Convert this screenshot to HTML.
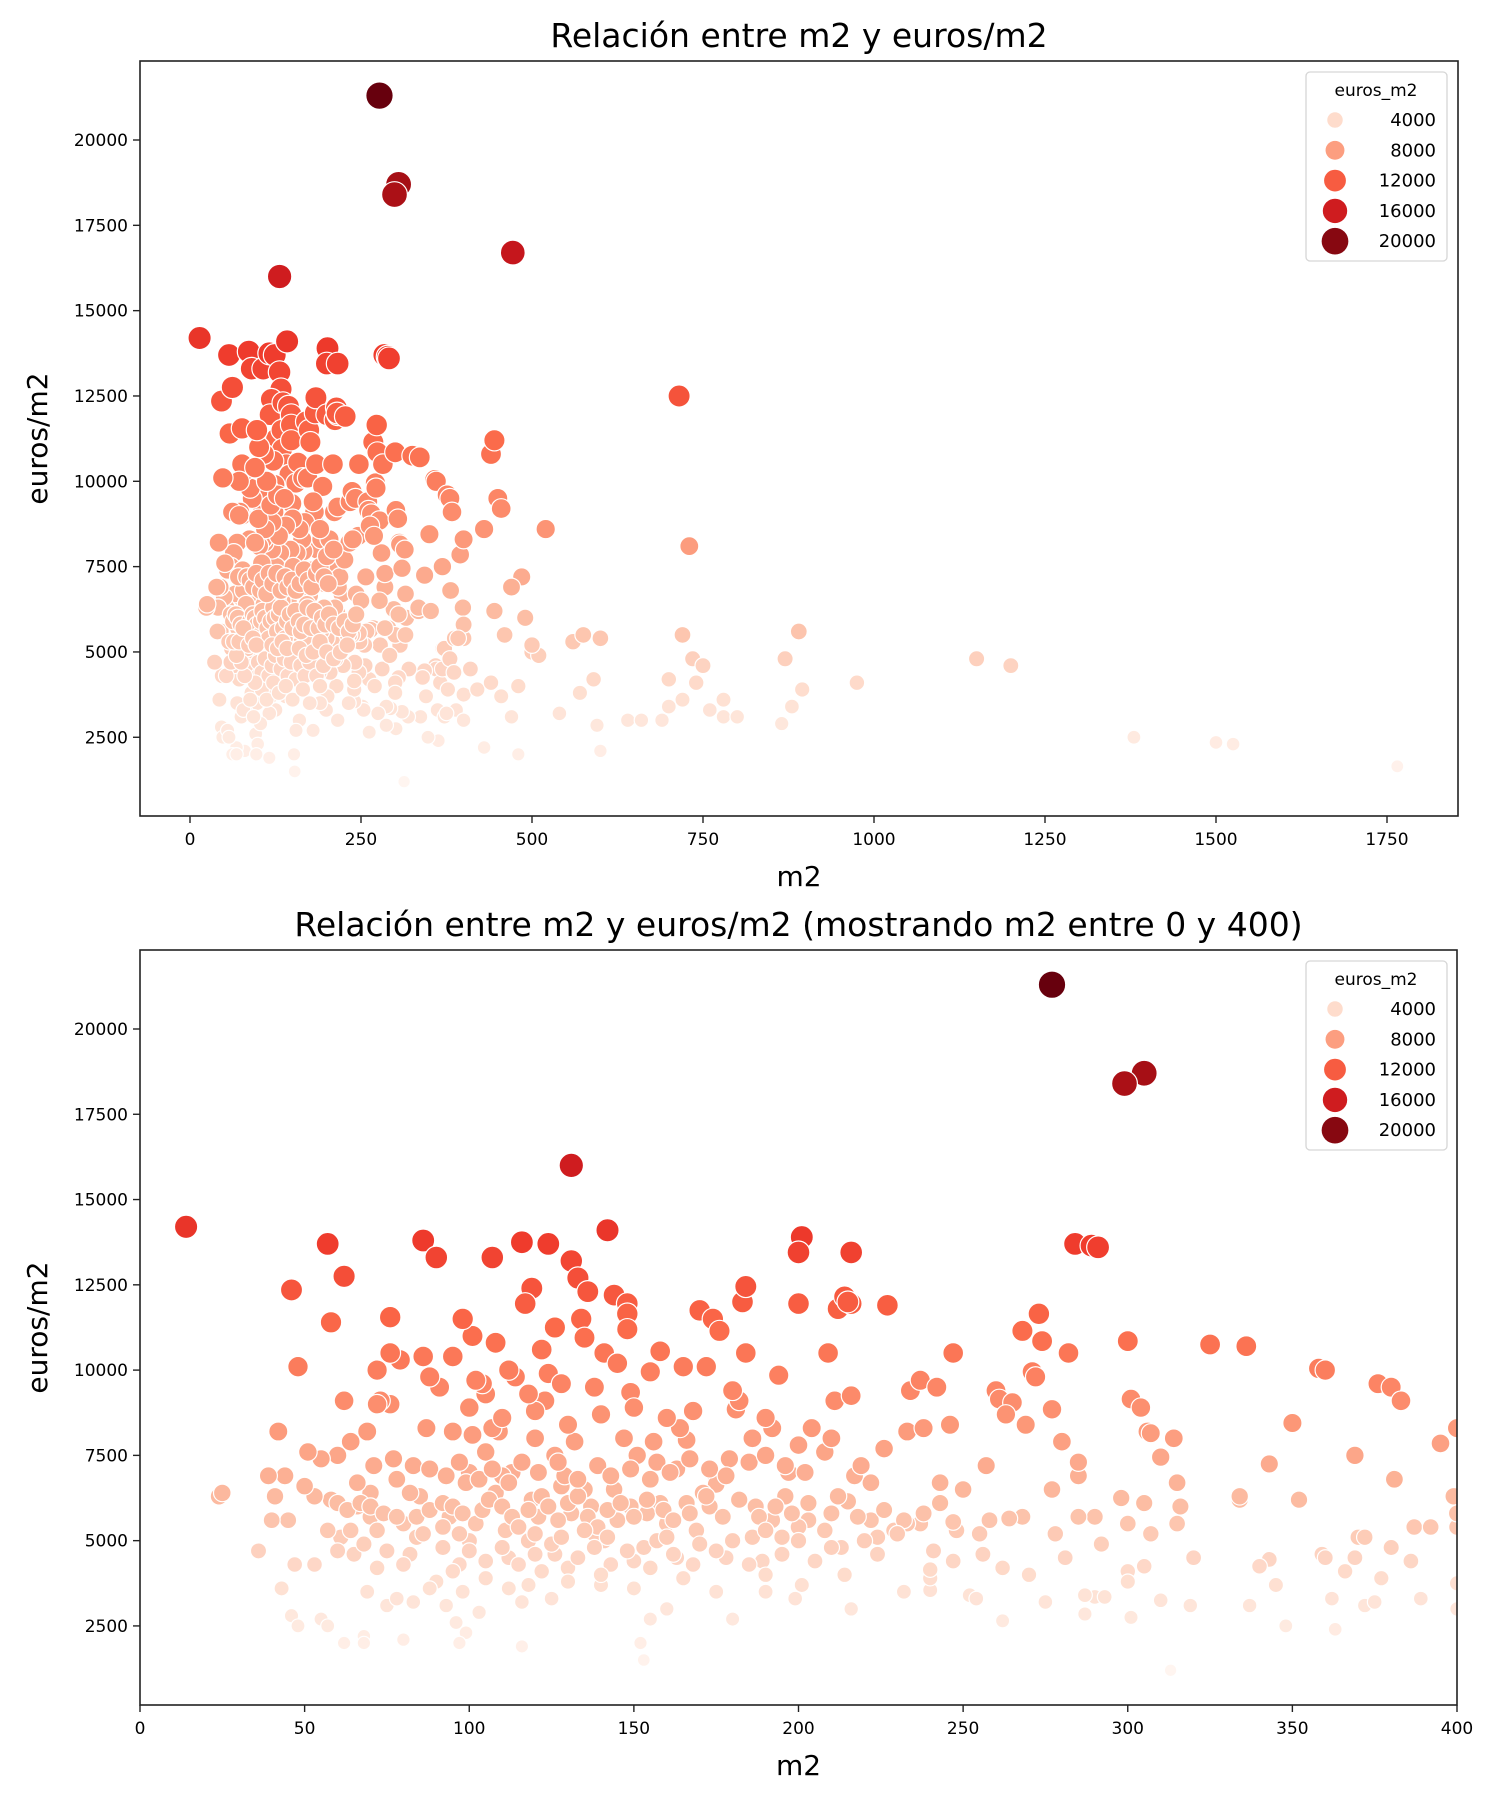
<!DOCTYPE html>
<html><head><meta charset="utf-8"><style>
html,body{margin:0;padding:0;background:#fff;}
svg{display:block;font-family:"DejaVu Sans","Liberation Sans",sans-serif;}
</style></head><body>
<svg id="chart" width="1500" height="1800" viewBox="0 0 1500 1800" xmlns="http://www.w3.org/2000/svg">
<defs>
<clipPath id="clipTop"><rect x="140" y="61" width="1318" height="755"/></clipPath>
<clipPath id="clipBot"><rect x="140" y="950" width="1317" height="755"/></clipPath>
</defs>
<g id="top"></g>
<g id="bot"></g>
</svg>
<script>
// data: m2 values and euros/m2 values
const m2 = [14,57,86,90,107,116,124,131,133,142,131,46,62,58,76,119,117,126,136,134,135,144,148,148,148,141,145,149,155,158,165,170,174,176,172,183,184,184,194,200,201,200,200,209,212,214,216,216,215,227,211,216,234,237,242,246,247,260,261,265,268,271,273,274,277,272,284,289,291,277,305,299,280,282,285,285,300,301,304,306,307,310,314,315,316,325,336,334,334,343,350,352,358,360,369,376,380,383,395,400,381,399,400,400,359,360,366,369,370,372,377,380,386,387,389,392,400,400,362,372,375,363,348,343,345,337,340,313,320,319,310,307,305,300,300,301,290,293,287,287,298,290,300,305,275,278,277,268,264,262,262,270,258,255,256,252,254,247,248,247,240,240,240,241,237,233,232,229,224,224,222,222,217,215,212,214,216,213,208,205,203,200,201,199,197,195,196,192,189,190,187,186,181,182,180,179,178,180,175,175,171,168,166,166,164,163,160,160,158,157,156,154,153,155,153,152,150,149,147,144,141,140,138,135,132,131,130,128,126,126,125,124,123,120,119,118,118,116,116,114,113,112,110,109,107,105,104,102,101,100,99,100,98,97,96,99,103,94,92,90,91,88,87,86,85,84,83,80,79,76,76,73,72,69,70,70,69,68,66,64,62,60,61,58,55,53,51,50,48,47,45,44,42,41,40,36,43,46,48,55,57,62,68,72,75,78,82,93,97,24,25,39,72,77,78,82,66,65,57,53,60,71,105,108,111,121,129,137,145,151,157,163,169,173,186,192,204,208,219,226,233,238,243,250,257,263,269,281,285,292,315,
430,440,445,450,455,472,445,460,485,470,520,500,480,470,510,540,560,575,570,590,600,595,600,640,660,700,715,720,730,735,750,760,720,780,800,870,880,890,895,865,975,1150,1200,1380,1500,1525,1765,780,740,700,690,480,430,420,410,440,455,500,490,
60,63,67,70,74,80,84,88,92,95,98,102,104,106,110,113,115,118,122,124,127,130,133,136,139,142,146,150,154,159,162,167,172,177,182,188,193,198,203,210,218,226,232,238,243,83,88,93,97,103,107,112,116,121,127,133,139,143,149,155,161,167,173,178,185,190,196,202,100,105,110,115,120,125,133,138,143,148,155,162,168,175,185,195,105,112,122,130,140,150,165,175,190,88,95,80,75,68,64,72,78,86,92,97,120,128,135,142,160,170,180,190,200,210,220,230,200,210,190,160,150,140,130,120,110,100,95,118,128,138,112,122,108,101,98,95];
const eur = [14200,13700,13800,13300,13300,13750,13700,13200,12700,14100,16000,12350,12750,11400,11550,12400,11950,11250,12300,11500,10950,12200,11950,11650,11200,10500,10200,9350,9950,10550,10100,11750,11500,11150,10100,12000,12450,10500,9850,13500,13900,11950,13450,10500,11800,12150,13450,11950,12000,11900,9100,9250,9400,9700,9500,8400,10500,9400,9150,9050,11150,9950,11650,10850,8850,9800,13700,13650,13600,21300,18700,18400,7900,10500,6900,7300,10850,9150,8900,8200,8150,7450,8000,6700,6000,10750,10700,6200,6300,7250,8450,6200,10050,10000,7500,9600,9500,9100,7850,8300,6800,6300,5400,5800,4600,4500,4100,4500,5100,5100,3900,4800,4400,5400,3300,5400,3750,3000,3300,3100,3200,2400,2500,4450,3700,3100,4250,1200,4500,3100,3250,5200,4250,4100,3800,2750,3350,3350,3400,2850,6250,5700,5500,6100,3200,5200,6500,5700,5650,4200,2650,4000,5600,5200,4600,3400,3300,4400,5300,5550,3550,3900,4150,4700,5500,5500,3500,5300,5100,4600,5600,6700,6900,6150,6300,4000,3000,4800,5300,4400,5600,5400,3700,3300,7000,5100,6300,5600,4400,3500,6000,8000,8850,9100,9400,7400,4500,2700,6850,6650,6400,8800,6100,7950,8300,4500,3000,5500,6100,7300,7900,5800,4800,2700,1500,2000,4400,6000,8000,6500,5000,3700,5200,6500,7900,5800,4200,6600,7500,4600,3300,9900,9100,8000,6200,5000,3700,1900,3200,9800,7000,4500,6900,8200,8300,9300,9600,9700,8100,7000,6700,5000,3500,4300,2600,2300,2900,5700,4800,3800,9500,9800,8300,10400,6300,5100,3200,2100,10300,10500,9000,9100,10000,8200,6400,5700,3500,2200,6700,7900,9100,7500,5100,6200,7400,6300,7600,6600,10100,4300,5600,6900,8200,6300,5600,4700,3600,2800,2500,2700,2500,2000,2000,4200,3100,3300,4600,3100,2000,6300,6400,6900,9000,7400,6800,6400,6000,4600,5300,4300,4700,7200,7600,6400,5300,5700,6900,6000,5600,7500,5000,7100,5300,6000,5100,8300,8300,7600,7200,7700,8200,8300,6700,6500,7200,8700,8400,4500,5700,4900,5500,
8600,10800,11200,9500,9200,16700,6200,5500,7200,6900,8600,5000,4000,3100,4900,3200,5300,5500,3800,4200,5400,2850,2100,3000,3000,4200,12500,5500,8100,4800,4600,3300,3600,3100,3100,4800,3400,5600,3900,2900,4100,4800,4600,2500,2350,2300,1650,3600,4100,3400,3000,2000,2200,3900,4500,4100,3700,5200,6000,
6100,5900,6100,6000,5800,5500,5700,5900,6100,6000,5800,5500,5900,6200,6000,5700,5400,5900,6300,6000,5600,6100,6300,5700,5400,5900,6100,5700,6200,5900,5600,5800,6300,5700,6200,5700,6000,5800,6100,5800,5700,5900,5600,5800,6100,7200,7100,6900,7300,6800,7100,6700,7300,7000,7300,6800,7200,6900,7100,6800,7000,7400,7100,6900,7300,7500,7200,7000,4700,4400,4800,4300,4600,4900,4500,4800,4300,4700,4200,4600,4300,4700,4300,4600,3900,3600,4100,3800,4000,3600,3900,3500,4000,3600,4100,4300,4700,4900,5300,5300,5700,5200,5400,5200,5200,5100,5300,5100,5100,4900,5000,5300,5000,4800,5000,5200,7800,8000,8600,8600,8900,8700,8400,8800,8600,8900,8200,9300,9600,9500,10000,10600,10800,11000,11500,10400];
const topXTicks = [0,250,500,750,1000,1250,1500,1750];
const botXTicks = [0,50,100,150,200,250,300,350,400];
const yTicks = [2500,5000,7500,10000,12500,15000,17500,20000];
const legendVals = [4000,8000,12000,16000,20000];

const NS="http://www.w3.org/2000/svg";
const stops=[[255,245,240],[254,224,210],[252,187,161],[252,146,114],[251,106,74],[239,59,44],[203,24,29],[165,15,21],[103,0,13]];
const VMIN=1200, VMAX=21300;
function color(v){let t=Math.max(0,Math.min(1,(v-VMIN)/(VMAX-VMIN)))*8;let i=Math.min(7,Math.floor(t));let f=t-i;const a=stops[i],b=stops[i+1];return `rgb(${a.map((c,k)=>Math.round(c+(b[k]-c)*f)).join(',')})`;}
function radius(v){return Math.sqrt(30+0.00741*v);}
function mk(tag,attrs,parent,text){const e=document.createElementNS(NS,tag);for(const k in attrs)e.setAttribute(k,attrs[k]);if(text!==undefined)e.textContent=text;parent.appendChild(e);return e;}

function drawPlot(g,cfg){
  const L=cfg.left,R=cfg.right,T=cfg.top,B=cfg.bottom;
  const xs=v=>cfg.x0px+(v-cfg.x0)*cfg.xk;
  const ys=v=>cfg.y20+(20000-v)*cfg.yk;
  const title=mk('text',{x:(L+R)/2,y:T-14,'text-anchor':'middle','font-size':'33'},g,cfg.title);
  
  
  const pts=mk('g',{'clip-path':`url(#${cfg.clip})`},g);
  
  
  for(let i=0;i<m2.length;i++){
    if(cfg.xmax!==undefined && m2[i]>cfg.xmax+5) continue;
    const c=mk('circle',{cx:xs(m2[i]).toFixed(1),cy:ys(eur[i]).toFixed(1),r:radius(eur[i]).toFixed(2),fill:color(eur[i]),stroke:'#fff','stroke-width':'1.2'},pts);
    
    
  }
  const frame=mk('rect',{x:L,y:T,width:R-L,height:B-T,fill:'none',stroke:'#222','stroke-width':'1.6'},g);
  
  
  const xa=mk('g',{},g);
  
  
  cfg.xticks.forEach(t=>{const x=xs(t);mk('line',{x1:x,x2:x,y1:B,y2:B+7,stroke:'#222','stroke-width':'1.4'},xa);
    const tl=mk('text',{x:x,y:B+29,'text-anchor':'middle','font-size':'17'},xa,String(t));
    
    });
  const ya=mk('g',{},g);
  
  
  yTicks.forEach(t=>{const y=ys(t);mk('line',{x1:L-7,x2:L,y1:y,y2:y,stroke:'#222','stroke-width':'1.4'},ya);
    const tl=mk('text',{x:L-12,y:y+6,'text-anchor':'end','font-size':'17'},ya,String(t));
    
    });
  const xl=mk('text',{x:(L+R)/2,y:B+70,'text-anchor':'middle','font-size':'28'},g,'m2');
  
  
  const yl=mk('text',{x:0,y:0,'text-anchor':'middle','font-size':'28',transform:`translate(47,${(T+B)/2}) rotate(-90)`},g,'euros/m2');
  
  
  // legend
  const lg=mk('g',{},g);
  
  
  const lt=T+11;
  mk('rect',{x:1306,y:lt,width:141,height:189,rx:4,fill:'#fff','fill-opacity':'0.8',stroke:'#d6d6d6','stroke-width':'1.3'},lg);
  const ltt=mk('text',{x:1376,y:lt+24,'text-anchor':'middle','font-size':'17'},lg,'euros_m2');
  
  
  legendVals.forEach((v,k)=>{const cy=lt+48+k*30.3;
    const e=mk('g',{},lg);
    
    
    mk('circle',{cx:1335,cy:cy,r:radius(v)*1.0,fill:color(v)},e);
    mk('text',{x:1436,y:cy+6,'text-anchor':'end','font-size':'18'},e,String(v));});
}
drawPlot(document.getElementById('top'),{left:140,right:1458,top:61,bottom:816,x0:0,x0px:190,xk:0.684,y20:140,yk:0.03413,xticks:topXTicks,clip:'clipTop',title:'Relación entre m2 y euros/m2'});
drawPlot(document.getElementById('bot'),{left:140,right:1457,top:950,bottom:1705,x0:0,x0px:140,xk:3.2925,y20:1029,yk:0.03411,xticks:botXTicks,xmax:400,clip:'clipBot',title:'Relación entre m2 y euros/m2 (mostrando m2 entre 0 y 400)'});
</script>
</body></html>
